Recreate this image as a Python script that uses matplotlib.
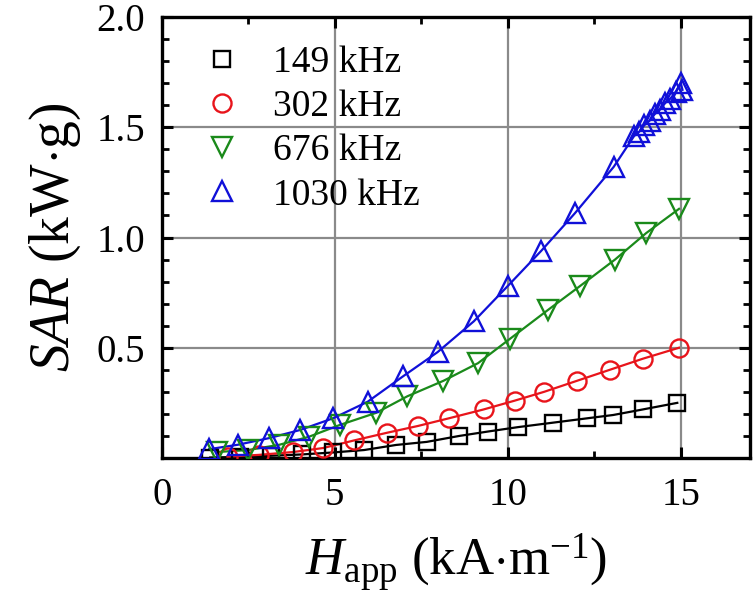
import matplotlib.pyplot as plt
from matplotlib.ticker import MultipleLocator, FixedLocator

plt.rcParams["font.family"] = ["Liberation Serif", "DejaVu Serif"]
plt.rcParams["mathtext.fontset"] = "custom"
plt.rcParams["mathtext.rm"] = "Liberation Serif"
plt.rcParams["mathtext.it"] = "Liberation Serif:italic"

# 149 kHz
h_149 = [1.4, 2.25, 3.15, 4.05, 4.95, 5.85, 6.77, 7.66, 8.6, 9.43, 10.3, 11.3, 12.3, 13.05, 13.9, 14.9]
sar_149 = [0.002, 0.005, 0.01, 0.016, 0.025, 0.036, 0.059, 0.073, 0.10, 0.12, 0.14, 0.16, 0.18, 0.195, 0.22, 0.25]

# 302 kHz
h_302 = [1.9, 2.8, 3.8, 4.66, 5.57, 6.5, 7.4, 8.3, 9.3, 10.2, 11.05, 12.0, 12.95, 13.9, 14.95]
sar_302 = [0.006, 0.014, 0.027, 0.045, 0.08, 0.114, 0.145, 0.18, 0.22, 0.26, 0.30, 0.35, 0.40, 0.45, 0.50]

# 676 kHz
h_676 = [1.6, 2.5, 3.4, 4.25, 5.15, 6.2, 7.1, 8.14, 9.14, 10.06, 11.15, 12.09, 13.1, 14.0, 14.95]
sar_676 = [0.027, 0.036, 0.06, 0.096, 0.15, 0.205, 0.28, 0.35, 0.43, 0.54, 0.67, 0.78, 0.90, 1.02, 1.13]

# 1030 kHz
h_1030 = [1.37, 2.2, 3.1, 4.0, 4.95, 5.95, 6.97, 7.97, 9.02, 10.0, 10.97, 11.94, 13.06,
          13.65, 13.8, 13.95, 14.1, 14.25, 14.4, 14.55, 14.7, 14.85, 15.0, 15.05]
sar_1030 = [0.04, 0.06, 0.09, 0.127, 0.18, 0.255, 0.37, 0.48, 0.62, 0.78, 0.94, 1.11, 1.32,
            1.46, 1.48, 1.51, 1.53, 1.56, 1.58, 1.61, 1.63, 1.66, 1.70, 1.67]

series = [
    (h_149, sar_149, "149 kHz", "black", "s", 11),
    (h_302, sar_302, "302 kHz", "#e8141b", "o", 13),
    (h_676, sar_676, "676 kHz", "#1a8a1a", "v", 15),
    (h_1030, sar_1030, "1030 kHz", "#1010d8", "^", 15),
]

fig = plt.figure(figsize=(7.56, 6.09), dpi=100)
ax = fig.add_axes([0.214, 0.248, 0.778, 0.724])

for hx, sy, lab, col, mk, ms in series:
    ax.plot(hx, sy, color=col, lw=1.6, zorder=3)
    ax.plot(hx, sy, ls="none", marker=mk, ms=ms, mfc="none", mec=col,
            mew=1.7, label=lab, zorder=4)

ax.set_xlim(0, 17)
ax.set_ylim(0, 2.0)
ax.xaxis.set_major_locator(MultipleLocator(5))
ax.xaxis.set_minor_locator(MultipleLocator(2.5))
ax.yaxis.set_major_locator(FixedLocator([0.5, 1.0, 1.5, 2.0]))
ax.yaxis.set_minor_locator(MultipleLocator(0.1))
ax.grid(True, which="major", color="#8a8a8a", lw=1.6, zorder=1)

ax.tick_params(which="both", direction="in", top=True, right=True, labelsize=28)
ax.tick_params(axis="x", pad=14)
ax.tick_params(axis="y", pad=12)
ax.tick_params(which="major", length=8, width=2.2)
ax.tick_params(which="minor", length=5, width=2.0)
for sp in ax.spines.values():
    sp.set_linewidth(2.4)

ax.set_xlabel(r"$H_{\mathrm{app}}$ (kA$\cdot$m$^{\mathrm{-1}}$)", fontsize=38, labelpad=12)
ax.set_ylabel(r"$SAR$ (kW$\cdot$g)", fontsize=40, labelpad=10)

ax.legend(loc="upper left", frameon=False, fontsize=27, handletextpad=0.85,
          handlelength=1.0, labelspacing=0.26, borderaxespad=0.0,
          bbox_to_anchor=(0.045, 0.97))

fig.savefig("out.png", dpi=100)
